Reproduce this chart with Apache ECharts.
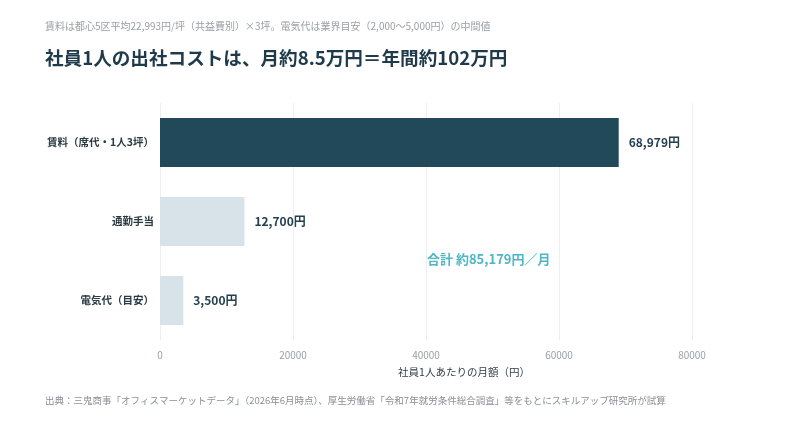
<!DOCTYPE html>
<html>
<head>
<meta charset="utf-8">
<script src="https://cdn.jsdelivr.net/npm/echarts@6/dist/echarts.min.js"></script>
<style>
  html, body { margin: 0; padding: 0; background: #fff; }
  #main { width: 800px; height: 422px; }
</style>
</head>
<body>
<div id="main"></div>
<script>
// data
var categories = ['電気代（目安）', '通勤手当', '賃料（席代・1人3坪）'];
var monthlyCost = [3500, 12700, 68979];
var barColors = ['#d7e3e8', '#d7e3e8', '#22495a'];
var totalLabel = '合計 約85,179円／月';

var FONT = '"Noto Sans CJK JP", "Noto Sans", sans-serif';

var chart = echarts.init(document.getElementById('main'));

var option = {
    backgroundColor: '#fff',
    textStyle: { fontFamily: FONT },
    title: [
        {
            text: '賃料は都心5区平均22,993円/坪（共益費別）×3坪。電気代は業界目安（2,000〜5,000円）の中間値',
            left: 40, top: 16,
            textStyle: { fontSize: 10, fontWeight: 'normal', color: '#9aa0a6', fontFamily: FONT }
        },
        {
            text: '社員1人の出社コストは、月約8.5万円＝年間約102万円',
            left: 40, top: 44,
            textStyle: { fontSize: 18.6, fontWeight: 'bold', color: '#1f3a4b', fontFamily: FONT }
        },
        {
            text: '出典：三鬼商事「オフィスマーケットデータ」（2026年6月時点）、厚生労働省「令和7年就労条件総合調査」等をもとにスキルアップ研究所が試算',
            left: 40, top: 391,
            textStyle: { fontSize: 9.5, fontWeight: 'normal', color: '#8a9096', fontFamily: FONT }
        }
    ],
    grid: { left: 160, right: 108, top: 103, bottom: 82 },
    xAxis: {
        type: 'value',
        min: 0, max: 80000, interval: 20000,
        name: '社員1人あたりの月額（円）',
        nameLocation: 'middle',
        nameGap: 27,
        nameTextStyle: { fontSize: 10.5, color: '#333f48', padding: [0, 0, 0, 76] },
        axisLine: { show: false },
        axisTick: { show: false },
        axisLabel: { fontSize: 10, color: '#9aa0a6', margin: 10, formatter: function (v) { return String(v); } },
        splitLine: { lineStyle: { color: '#eceff2', width: 1 } }
    },
    yAxis: {
        type: 'category',
        data: categories,
        axisLine: { show: false },
        axisTick: { show: false },
        axisLabel: { fontSize: 10.5, fontWeight: 'bold', color: '#2a3a44', margin: 6 }
    },
    series: [{
        type: 'bar',
        data: monthlyCost.map(function (v, i) {
            return { value: v, itemStyle: { color: barColors[i] } };
        }),
        barWidth: 49,
        label: {
            show: true,
            position: 'right',
            distance: 10,
            fontSize: 12,
            fontWeight: 'bold',
            color: '#233f50',
            formatter: function (p) { return p.value.toLocaleString('en-US') + '円'; }
        }
    }],
    graphic: [{
        type: 'text',
        left: 427, top: 253,
        style: {
            text: totalLabel,
            fontSize: 13,
            fontWeight: 'bold',
            fill: '#4fb6c6',
            fontFamily: FONT
        }
    }]
};

chart.setOption(option);
</script>
</body>
</html>
